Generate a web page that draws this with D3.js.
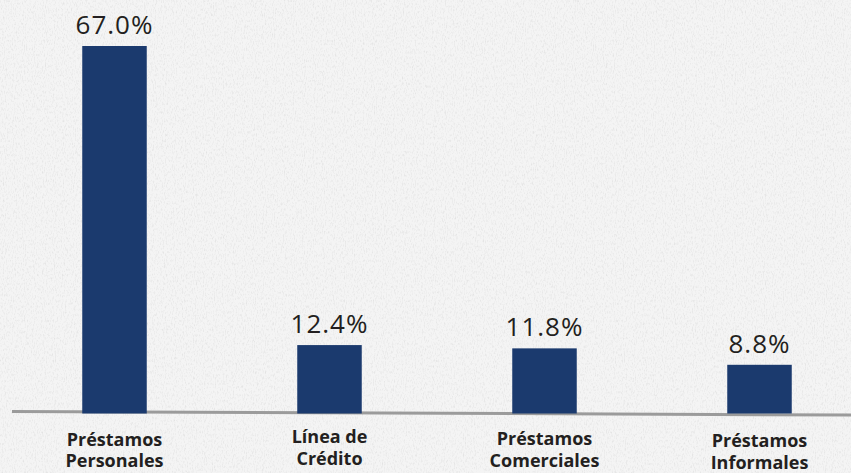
<!DOCTYPE html>
<html>
<head>
<meta charset="utf-8">
<script src="https://d3js.org/d3.v7.min.js"></script>
<style>
  html, body { margin: 0; padding: 0; background: #f1f1f1; }
  svg { display: block; }
</style>
</head>
<body>
<svg id="chart"></svg>
<script>
    // data
    const categories = ["Préstamos Personales", "Línea de Crédito", "Préstamos Comerciales", "Préstamos Informales"];
    const labelLines = [["Préstamos", "Personales"], ["Línea de", "Crédito"], ["Préstamos", "Comerciales"], ["Préstamos", "Informales"]];
    const values = [67.0, 12.4, 11.8, 8.8];

    const width = 851, height = 473;
    // small vertical nudges of the category labels (layout only)
    const labelNudge = [0, -2.5, -0.5, 1.5];

    const svg = d3.select("#chart")
        .attr("width", width)
        .attr("height", height);

    // paper texture
    const defs = svg.append("defs");
    const f = defs.append("filter").attr("id", "paper")
        .attr("x", 0).attr("y", 0).attr("width", "100%").attr("height", "100%");
    f.append("feTurbulence")
        .attr("type", "fractalNoise")
        .attr("baseFrequency", "0.9 0.35")
        .attr("numOctaves", 3)
        .attr("seed", 4)
        .attr("result", "noise");
    f.append("feColorMatrix")
        .attr("type", "matrix")
        .attr("values", "0 0 0 0 0.6  0 0 0 0 0.6  0 0 0 0 0.6  0 0 0 -2.4 1.25");

    svg.append("rect").attr("width", width).attr("height", height).attr("fill", "#f4f4f4");
    svg.append("rect").attr("width", width).attr("height", height)
        .attr("filter", "url(#paper)").attr("opacity", 0.4);

    const x = d3.scaleBand()
        .domain(categories)
        .range([7, 867])
        .paddingInner(0.7)
        .paddingOuter(0.35);

    const y = d3.scaleLinear()
        .domain([0, 67])
        .range([413, 46]);

    // baseline (slightly tilted in the picture)
    svg.append("line")
        .attr("x1", 12).attr("x2", width)
        .attr("y1", y(0) - 1.5).attr("y2", y(0) + 2)
        .attr("stroke", "#9b9b9b")
        .attr("stroke-width", 3);

    const g = svg.selectAll("g.bar")
        .data(categories)
        .join("g")
        .attr("class", "bar");

    g.append("rect")
        .attr("x", d => x(d))
        .attr("width", x.bandwidth())
        .attr("y", (d, i) => y(values[i]))
        .attr("height", (d, i) => y(0) - y(values[i]) + 0.5)
        .attr("fill", "#1b3a6e");

    g.append("text")
        .attr("x", d => x(d) + x.bandwidth() / 2)
        .attr("y", (d, i) => y(values[i]) - 12)
        .attr("text-anchor", "middle")
        .style("font", "500 26px 'Open Sans', sans-serif")
        .style("letter-spacing", "1px")
        .attr("fill", "#231f20")
        .text((d, i) => values[i].toFixed(1) + "%");

    g.append("text")
        .attr("text-anchor", "middle")
        .style("font", "700 18px 'Open Sans', sans-serif")
        .attr("fill", "#231f20")
        .attr("transform", (d, i) => `translate(${x(d) + x.bandwidth() / 2},${445.5 + labelNudge[i]})`)
        .selectAll("tspan")
        .data((d, i) => labelLines[i])
        .join("tspan")
        .attr("x", 0)
        .attr("dy", (d, i) => i === 0 ? 0 : 21.5)
        .text(d => d);
</script>
</body>
</html>
